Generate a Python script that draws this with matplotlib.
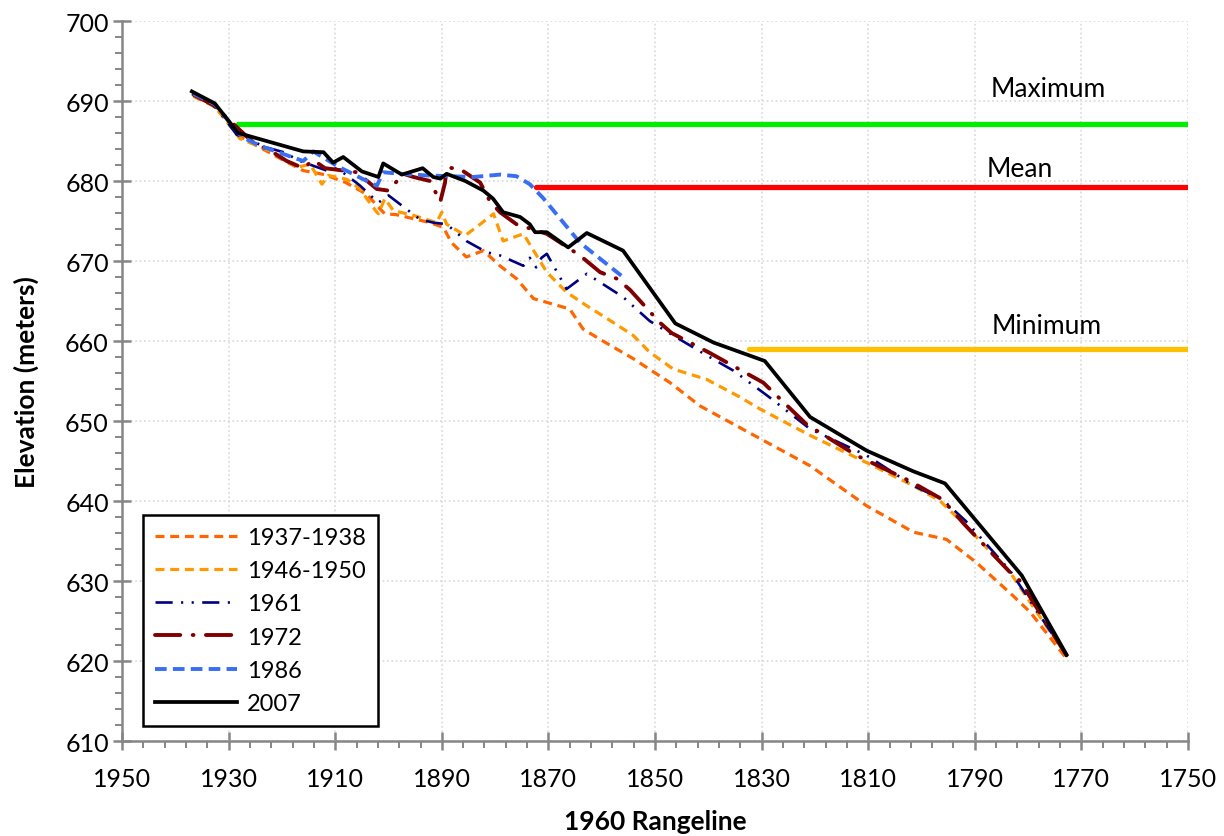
"""Elevation profiles along the 1960 rangeline, by survey year."""
import numpy as np
import matplotlib.pyplot as plt

plt.rcParams['font.family'] = ['Lato', 'DejaVu Sans']

# survey profiles (rangeline station, elevation in m)
x_1937 = [1936.6, 1932.6, 1928.0, 1920.0, 1916.0, 1912.0, 1908.0, 1904.0, 1902.0, 1900.7,
          1898.6, 1892.2, 1889.7, 1888.2, 1885.4, 1882.2, 1879.1, 1876.0, 1872.8, 1869.1,
          1866.0, 1863.5, 1860.3, 1854.1, 1847.2, 1844.1, 1841.6, 1830.3, 1820.9, 1810.3,
          1801.5, 1795.3, 1789.7, 1782.9, 1779.6, 1772.8]
y_1937 = [690.6, 689.3, 685.6, 682.7, 681.3, 680.8, 679.8, 678.3, 676.8, 675.9,
          675.8, 674.8, 674.2, 672.3, 670.5, 671.3, 669.4, 667.8, 665.3, 664.6,
          664.0, 661.5, 660.2, 657.8, 654.8, 653.2, 651.9, 647.8, 644.4, 639.4,
          636.1, 635.2, 632.3, 628.2, 626.1, 620.3]

x_1946 = [1936.6, 1932.6, 1927.9, 1921.6, 1919.1, 1917.2, 1914.7, 1912.5, 1911.3, 1907.8,
          1905.3, 1904.1, 1902.2, 1901.9, 1900.7, 1899.1, 1895.3, 1891.0, 1890.0, 1889.1,
          1885.6, 1882.8, 1880.3, 1878.5, 1874.7, 1870.3, 1866.6, 1862.8, 1857.8, 1854.1,
          1851.0, 1846.6, 1840.3, 1834.1, 1830.3, 1820.9, 1810.3, 1801.5, 1796.5, 1791.7,
          1783.4, 1772.8]
y_1946 = [690.7, 689.4, 685.3, 683.6, 682.5, 681.7, 682.1, 679.6, 680.7, 680.2,
          679.0, 677.8, 676.1, 675.9, 677.8, 676.3, 675.7, 674.8, 676.1, 674.6,
          673.2, 674.6, 675.9, 672.5, 673.4, 668.6, 666.1, 664.4, 662.3, 660.7,
          658.6, 656.5, 655.2, 653.0, 651.5, 648.2, 644.8, 641.9, 640.0, 636.9,
          631.1, 620.6]

x_1961 = [1936.6, 1932.7, 1928.5, 1922.9, 1919.7, 1916.6, 1911.6, 1909.7, 1907.8, 1905.3,
          1903.4, 1901.9, 1900.0, 1894.1, 1891.6, 1889.1, 1885.4, 1881.6, 1879.1, 1874.7,
          1873.5, 1872.3, 1871.3, 1870.3, 1866.6, 1862.8, 1856.0, 1851.0, 1846.6, 1840.3,
          1835.3, 1828.8, 1820.9, 1810.3, 1801.5, 1796.1, 1791.7, 1783.4, 1772.8]
y_1961 = [690.8, 689.5, 685.8, 684.2, 683.6, 682.5, 681.3, 681.6, 680.7, 679.4,
          678.2, 677.3, 678.2, 675.2, 674.8, 674.6, 672.5, 671.1, 670.7, 669.4,
          670.4, 669.2, 670.4, 670.9, 666.5, 668.4, 665.5, 662.5, 660.7, 658.2,
          656.3, 653.1, 649.0, 645.7, 641.9, 640.2, 637.5, 631.3, 620.7]

x_1972 = [1936.6, 1932.9, 1925.7, 1922.2, 1919.1, 1916.0, 1914.1, 1911.9, 1906.0, 1902.2,
          1900.0, 1897.2, 1895.3, 1892.2, 1890.3, 1889.4, 1889.1, 1886.6, 1882.8, 1881.0,
          1879.1, 1876.0, 1870.3, 1864.1, 1860.3, 1857.2, 1854.7, 1849.1, 1846.9, 1839.7,
          1829.7, 1821.6, 1812.2, 1802.2, 1796.1, 1791.7, 1783.4, 1781.5, 1772.8]
y_1972 = [690.8, 689.5, 685.0, 683.8, 682.5, 681.6, 682.6, 681.6, 681.1, 679.0,
          678.8, 680.9, 680.5, 680.0, 677.4, 679.8, 681.7, 681.5, 679.8, 677.5,
          676.1, 674.6, 673.4, 670.7, 668.6, 667.8, 666.4, 662.3, 661.0, 658.5,
          654.8, 649.6, 645.7, 642.5, 640.2, 636.9, 631.1, 630.0, 620.7]

x_1986 = [1936.6, 1932.6, 1928.8, 1927.5, 1924.1, 1916.0, 1914.1, 1909.7, 1904.7, 1902.2,
          1901.0, 1897.8, 1892.9, 1884.1, 1879.1, 1876.0, 1873.5, 1870.9, 1864.1, 1856.0]
y_1986 = [690.9, 689.6, 686.5, 685.5, 684.4, 682.5, 683.7, 681.9, 680.2, 679.4,
          681.1, 680.9, 680.7, 680.5, 680.8, 680.6, 679.6, 677.8, 672.3, 668.0]

x_2007 = [1936.9, 1932.6, 1928.2, 1916.0, 1912.2, 1910.4, 1908.5, 1905.0, 1901.9, 1901.0,
          1897.5, 1893.6, 1891.6, 1890.3, 1889.1, 1885.6, 1882.2, 1880.4, 1878.5, 1875.3,
          1873.5, 1872.5, 1870.3, 1866.3, 1862.8, 1856.0, 1846.2, 1839.0, 1829.4, 1820.9,
          1810.3, 1801.5, 1795.6, 1781.2, 1772.8]
y_2007 = [691.2, 689.7, 686.0, 683.7, 683.6, 682.3, 683.0, 681.2, 680.5, 682.2,
          680.8, 681.6, 680.5, 680.3, 680.9, 680.0, 678.8, 677.8, 676.1, 675.5,
          674.6, 673.6, 673.6, 671.7, 673.5, 671.3, 662.2, 659.8, 657.5, 650.5,
          646.3, 643.7, 642.2, 630.7, 620.8]

# reference levels: (label, start station, elevation)
ref_labels = ['Maximum', 'Mean', 'Minimum']
ref_start = [1928.2, 1872.3, 1832.4]
ref_elev = [687.1, 679.2, 659.0]
ref_colors = ['#00EE00', '#FF0000', '#FFC000']

fig = plt.figure(figsize=(12.24, 8.37), dpi=100)
ax = fig.add_axes([0.0997, 0.1135, 0.8709, 0.8602])

for lab, x0, yv, c in zip(ref_labels, ref_start, ref_elev, ref_colors):
    ax.plot([x0, 1750], [yv, yv], color=c, lw=3.8, solid_capstyle='round', zorder=2)

ax.plot(x_1937, y_1937, color='#FF6600', lw=2.3, ls=(0, (2.8, 1.8)), label='1937-1938', zorder=3)
ax.plot(x_1946, y_1946, color='#FF9900', lw=2.3, ls=(0, (2.8, 1.8)), label='1946-1950', zorder=3)
ax.plot(x_1961, y_1961, color='#000080', lw=1.9, ls=(0, (6.5, 3.2, 0.8, 3.2, 0.8, 3.2)),
        label='1961', zorder=4)
ax.plot(x_1972, y_1972, color='#7F0000', lw=2.8, ls=(0, (6.5, 3.2, 0.2, 3.2)),
        dash_capstyle='round', label='1972', zorder=4)
ax.plot(x_1986, y_1986, color='#3A6EF2', lw=2.8, ls=(0, (3.0, 1.6)), label='1986', zorder=5)
ax.plot(x_2007, y_2007, color='black', lw=2.7, label='2007', zorder=6)

# level labels
ax.text(1776.3, 691.6, 'Maximum', ha='center', va='center', fontsize=19)
ax.text(1781.5, 681.6, 'Mean', ha='center', va='center', fontsize=19)
ax.text(1776.6, 661.9, 'Minimum', ha='center', va='center', fontsize=19)

ax.set_xlim(1950, 1750)
ax.set_ylim(610, 700)
ax.set_xticks(np.arange(1950, 1749, -20))
ax.set_xticks(np.arange(1950, 1749, -4), minor=True)
ax.set_yticks(np.arange(610, 701, 10))
ax.set_yticks(np.arange(610, 701, 2), minor=True)

ax.grid(True, which='major', color='#D9D9D9', ls=':', lw=1.2)
ax.set_axisbelow(True)
for s in ['top', 'right']:
    ax.spines[s].set_visible(False)
for s in ['left', 'bottom']:
    ax.spines[s].set_color('#868686')
    ax.spines[s].set_linewidth(1.8)
ax.tick_params(which='major', direction='inout', length=13, width=1.8, color='#868686',
               labelsize=18, pad=3)
ax.tick_params(which='minor', direction='out', length=5, width=1.4, color='#868686')
ax.tick_params(axis='x', which='major', pad=12)

ax.set_xlabel('1960 Rangeline', fontsize=19, fontweight='bold', labelpad=14)
ax.set_ylabel('Elevation (meters)', fontsize=19, fontweight='bold', labelpad=19)

leg = ax.legend(loc='lower left', bbox_to_anchor=(0.0197, 0.0208), borderaxespad=0,
                fontsize=17, handlelength=3.5, frameon=True, fancybox=False,
                edgecolor='black', framealpha=1, labelspacing=0.52, borderpad=0.5,
                handletextpad=0.4)
leg.get_frame().set_linewidth(1.8)

fig.savefig('out.png', dpi=100)
